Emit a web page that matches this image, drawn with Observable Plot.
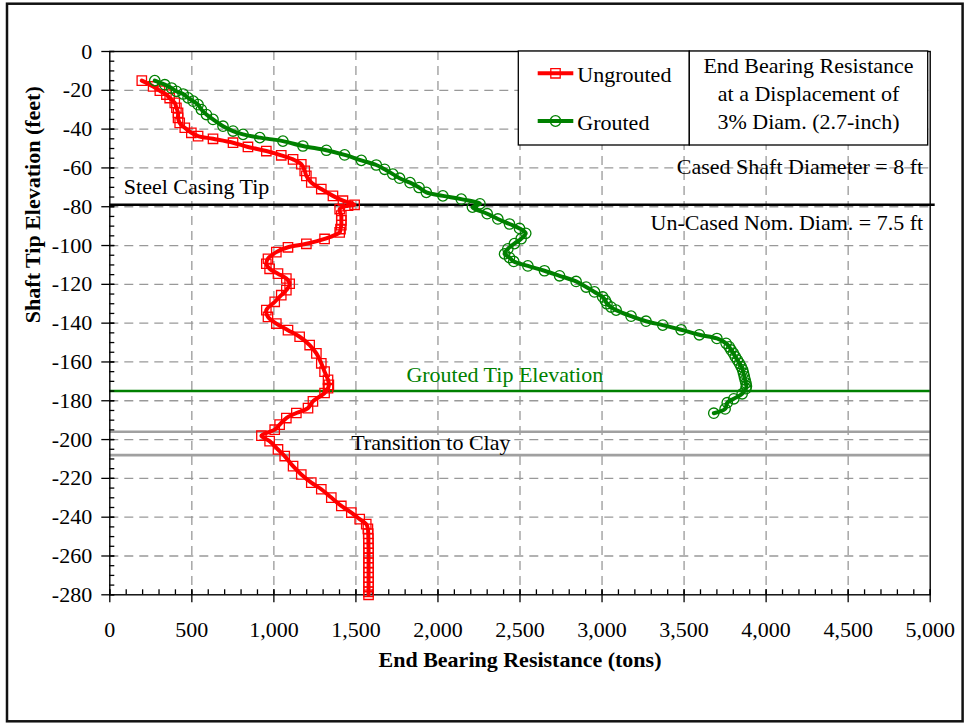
<!DOCTYPE html>
<html>
<head>
<meta charset="utf-8">
<script src="https://cdn.jsdelivr.net/npm/d3@7"></script>
<script src="https://cdn.jsdelivr.net/npm/@observablehq/plot@0.6"></script>
<style>
  html, body { margin: 0; padding: 0; background: #ffffff; }
</style>
</head>
<body>
<div id="chart"></div>
<script>
// Ungrouted shaft: tip elevation (feet) and end bearing resistance (tons)
const ungroutedElev = [
  -15, -18, -20.2, -22.2, -24, -26.5, -29, -31.6, -34.2, -36.8,
  -39.3, -41.9, -43.6, -45, -47, -49.2, -51.3, -53.5, -55.6, -58.1,
  -61.5, -64.1, -67.5, -70.9, -74.4, -76.9, -79, -79.5, -81.2, -84.6,
  -87, -89.5, -91.5, -93.2, -96.6, -99.1, -100.9, -103.4, -106.8, -109.4,
  -112, -114.5, -117, -119.7, -123, -125.6, -129, -133.3, -136.8, -140.2,
  -143.6, -147, -151.3, -155.6, -160.7, -165, -169.2, -171.8, -173.5, -176,
  -180.3, -183.8, -186.3, -188.9, -192.3, -194.9, -198, -200.8, -205.1, -208.5,
  -213.7, -218, -222.2, -225.6, -229.9, -234.2, -237.6, -241, -243.6, -246,
  -248.5, -251, -253.5, -256, -258.5, -261, -263.5, -266, -268.5, -271,
  -273.5, -276, -278.5, -280
];
const ungroutedTons = [
  195, 264, 305, 345, 365, 396, 406, 416, 416, 426,
  457, 497, 538, 629, 751, 842, 954, 1045, 1117, 1167,
  1188, 1198, 1228, 1289, 1360, 1421, 1492, 1452, 1401, 1411,
  1411, 1411, 1406, 1401, 1309, 1198, 1086, 1015, 964, 954,
  974, 1025, 1076, 1096, 1076, 1045, 1005, 954, 964, 1015,
  1086, 1157, 1218, 1259, 1289, 1309, 1330, 1335, 1330, 1309,
  1238, 1208, 1137, 1076, 1035, 1005, 924, 974, 1025, 1066,
  1117, 1167, 1228, 1289, 1350, 1411, 1472, 1523, 1563, 1573,
  1575, 1576, 1576, 1577, 1577, 1577, 1577, 1577, 1577, 1577,
  1577, 1577, 1577, 1577
];

// Grouted shaft: tip elevation (feet) and end bearing resistance (tons)
const groutedElev = [
  -15, -17.1, -18.8, -20.5, -21.9, -23.9, -25.6, -27.4, -29.9, -32.5,
  -35, -38.5, -41, -42.7, -44.4, -46.2, -48.7, -50.9, -53.3, -56.1,
  -58.5, -60.7, -63.2, -65.3, -67.6, -70.1, -72.6, -74.4, -76.1, -78.5,
  -80.2, -83.6, -86.3, -88.9, -91.2, -93.7, -96.5, -99, -101.7, -104.3,
  -106.2, -108.2, -110.5, -113, -115.6, -118.5, -121.4, -123.9, -126.5, -128.3,
  -130, -131.7, -133.3, -136.4, -139, -141, -143.4, -146, -147.9, -150.4,
  -152.2, -153.8, -155.5, -157.3, -159, -160.7, -162.4, -164.1, -165.8, -167.5,
  -169.2, -170.9, -172.5, -173.8, -176.4, -179, -181, -184.2, -186.4
];
const groutedTons = [
  274, 335, 376, 406, 447, 477, 508, 538, 558, 589,
  629, 690, 751, 812, 914, 1055, 1177, 1320, 1431, 1533,
  1624, 1675, 1725, 1766, 1830, 1885, 1929, 2030, 2142, 2256,
  2210, 2300, 2365, 2436, 2497, 2535, 2507, 2466, 2426, 2406,
  2436, 2462, 2548, 2649, 2741, 2842, 2903, 2954, 3004, 3020,
  3030, 3055, 3086, 3177, 3268, 3370, 3482, 3593, 3700, 3756,
  3775, 3786, 3800, 3812, 3825, 3837, 3848, 3857, 3862, 3867,
  3872, 3877, 3880, 3877, 3854, 3803, 3763, 3750, 3681
];

// Axis ticks and labels
const xTicks = [0, 500, 1000, 1500, 2000, 2500, 3000, 3500, 4000, 4500, 5000];
const yTicks = [0, -20, -40, -60, -80, -100, -120, -140, -160, -180, -200, -220, -240, -260, -280];
const xGrid = xTicks.slice(1, -1);
const yGrid = yTicks.slice(1, -1);
const xMinor = d3.range(0, 5001, 100);
const yMinor = d3.range(0, -281, -5);

// Reference elevations (feet)
const casingTip = -79;
const groutedTip = -175;
const clayTop = -196;
const clayBottom = -208;

const ungrouted = ungroutedElev.map((e, i) => ({elev: e, tons: ungroutedTons[i]}));
const grouted = groutedElev.map((e, i) => ({elev: e, tons: groutedTons[i]}));

const W = 964, H = 723;
const mLeft = 109.3, mRight = 34.3, mTop = 51, mBottom = 128.7;
const innerW = W - mLeft - mRight;
const innerH = H - mTop - mBottom;

const RED = "#ff0000";
const GREEN = "#008000";
const FONT = "'Liberation Serif', 'Times New Roman', serif";

const chart = Plot.plot({
  width: W,
  height: H,
  marginLeft: mLeft,
  marginRight: mRight,
  marginTop: mTop,
  marginBottom: mBottom,
  style: {fontFamily: FONT, fontSize: "22px", color: "#000", background: "#fff", overflow: "visible"},
  x: {domain: [0, 5000]},
  y: {domain: [-280, 0]},
  marks: [
    Plot.gridX(xGrid, {stroke: "#999", strokeOpacity: 1, strokeWidth: 1.3, strokeDasharray: "9,6"}),
    Plot.gridY(yGrid, {stroke: "#999", strokeOpacity: 1, strokeWidth: 1.3, strokeDasharray: "9,6"}),

    // reference elevations
    Plot.ruleY([clayTop, clayBottom], {stroke: "#a0a0a0", strokeWidth: 2.6}),
    Plot.ruleY([groutedTip], {stroke: GREEN, strokeWidth: 2.6}),
    Plot.ruleY([casingTip], {stroke: "#000", strokeWidth: 2.4, insetRight: -5}),

    Plot.frame({stroke: "#000", strokeWidth: 1.4}),

    // tick marks
    Plot.tickX(xMinor, {x: d => d, insetTop: innerH - 5, stroke: "#000", strokeWidth: 1.3}),
    Plot.tickX(xTicks, {x: d => d, insetTop: innerH - 5, insetBottom: -8, stroke: "#000", strokeWidth: 1.3}),
    Plot.tickY(yMinor, {y: d => d, insetRight: innerW - 5, stroke: "#000", strokeWidth: 1.3}),
    Plot.tickY(yTicks, {y: d => d, insetRight: innerW - 5, insetLeft: -8, stroke: "#000", strokeWidth: 1.3}),

    Plot.axisX({ticks: xTicks, tickSize: 0, tickPadding: 26.8, tickFormat: d3.format(","), label: null, fontSize: 22}),
    Plot.axisY({ticks: yTicks, tickSize: 0, tickPadding: 17.6, tickFormat: d => String(d), label: null, fontSize: 22}),

    // series
    Plot.line(ungrouted, {x: "tons", y: "elev", stroke: RED, strokeWidth: 4, curve: "catmull-rom"}),
    Plot.dot(ungrouted, {x: "tons", y: "elev", symbol: "square", r: 5.3, stroke: RED, strokeWidth: 1.3, fill: "none"}),
    Plot.line(grouted, {x: "tons", y: "elev", stroke: GREEN, strokeWidth: 4, curve: "catmull-rom"}),
    Plot.dot(grouted, {x: "tons", y: "elev", symbol: "circle", r: 5.2, stroke: GREEN, strokeWidth: 1.3, fill: "none"}),

    // annotations
    Plot.text([{label: "Steel Casing Tip", y: casingTip}], {y: "y", text: "label", frameAnchor: "left", dx: 14, dy: -11, textAnchor: "start", lineAnchor: "bottom", fill: "#000", fontSize: 22}),
    Plot.text([{label: "Cased Shaft Diameter = 8 ft", y: casingTip}], {y: "y", text: "label", frameAnchor: "right", dx: -7, dy: -31, textAnchor: "end", lineAnchor: "bottom", fill: "#000", fontSize: 22}),
    Plot.text([{label: "Un-Cased Nom. Diam. = 7.5 ft", y: casingTip}], {y: "y", text: "label", frameAnchor: "right", dx: -7, dy: 25, textAnchor: "end", lineAnchor: "bottom", fill: "#000", fontSize: 22}),
    Plot.text([{label: "Grouted Tip Elevation", y: groutedTip}], {y: "y", text: "label", frameAnchor: "left", dx: 395, dy: -9, textAnchor: "middle", lineAnchor: "bottom", fill: GREEN, fontSize: 22}),
    Plot.text([{label: "Transition to Clay", y: clayBottom}], {y: "y", text: "label", frameAnchor: "left", dx: 321, dy: -5, textAnchor: "middle", lineAnchor: "bottom", fill: "#000", fontSize: 22}),

    // axis titles
    Plot.text(["End Bearing Resistance (tons)"], {text: d => d, frameAnchor: "bottom", dy: 72.4, lineAnchor: "bottom", fontWeight: "bold", fill: "#000", fontSize: 22}),
    Plot.text(["Shaft Tip Elevation (feet)"], {text: d => d, frameAnchor: "left", dx: -69.8, rotate: -90, lineAnchor: "bottom", fontWeight: "bold", fill: "#000", fontSize: 22})
  ]
});

document.getElementById("chart").append(chart);

// Legend boxes and outer chart border
const svg = d3.select(chart);
const lg = svg.append("g")
  .attr("font-family", FONT)
  .attr("font-size", 22)
  .attr("fill", "#000")
  .attr("text-anchor", "start");

lg.append("rect").attr("x", 518.3).attr("y", 51).attr("width", 171).attr("height", 94)
  .attr("fill", "#fff").attr("stroke", "#000").attr("stroke-width", 1.3);
lg.append("rect").attr("x", 689.3).attr("y", 51).attr("width", 238.4).attr("height", 94)
  .attr("fill", "#fff").attr("stroke", "#000").attr("stroke-width", 1.3);

const entries = [
  {name: "Ungrouted", color: RED, symbol: d3.symbolSquare, y: 73.3},
  {name: "Grouted", color: GREEN, symbol: d3.symbolCircle, y: 121}
];
for (const e of entries) {
  lg.append("line").attr("x1", 537.7).attr("x2", 573.3).attr("y1", e.y).attr("y2", e.y)
    .attr("stroke", e.color).attr("stroke-width", 4);
  lg.append("path").attr("d", d3.symbol(e.symbol, 5.3 * 5.3 * Math.PI)())
    .attr("transform", `translate(555.5,${e.y})`)
    .attr("fill", "none").attr("stroke", e.color).attr("stroke-width", 1.3);
  lg.append("text").attr("x", 577.3).attr("y", e.y + 8.7).attr("text-anchor", "start").text(e.name);
}

const note = ["End Bearing Resistance", "at a Displacement of", "3% Diam. (2.7-inch)"];
note.forEach((t, i) => {
  lg.append("text").attr("x", 808.5).attr("y", 73.3 + i * 28).attr("text-anchor", "middle").text(t);
});

svg.append("rect").attr("x", 7).attr("y", 3.7).attr("width", 955.6).attr("height", 717.6)
  .attr("fill", "none").attr("stroke", "#111").attr("stroke-width", 2.5);
</script>
</body>
</html>
